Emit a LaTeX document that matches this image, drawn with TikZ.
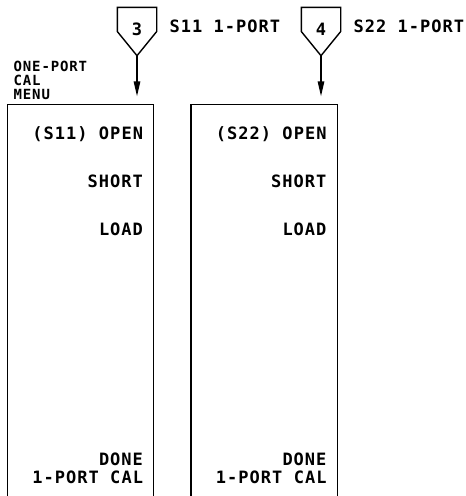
\documentclass[tikz,border=0pt]{standalone}
\usepackage{fontspec}
\usetikzlibrary{arrows.meta, positioning, calc}
\newfontfamily\plotfont[LetterSpace=6]{DejaVu Sans Mono}
\tikzset{
  every picture/.style={line width=1.4pt},
  keybox/.style={minimum width=38pt, minimum height=47pt, inner sep=0pt, text height=12pt, text depth=5pt, font=\plotfont\bfseries\fontsize{17}{17}\selectfont},
  menu/.style={minimum width=145pt, minimum height=395pt, inner sep=0pt},
  softkey/.style={anchor=base east, inner sep=0pt, font=\plotfont\bfseries\fontsize{17}{17}\selectfont},
  keylabel/.style={anchor=base west, inner sep=0pt, font=\plotfont\bfseries\fontsize{17}{17}\selectfont},
  title/.style={anchor=south west, inner sep=0pt, align=left, font=\plotfont\bfseries\fontsize{14}{14}\selectfont},
  arrow/.style={-{Triangle[length=15pt, width=6.5pt]}, shorten >=8pt},
}

\begin{document}
\begin{tikzpicture}[x=1pt, y=-1pt]
  \useasboundingbox (0,0) rectangle (466,496);
  % ---- hardkeys ----
  \node[keybox] (k3) at (137,31.5) {3};
  \node[keybox] (k4) at (321,31.5) {4};
  \node[keylabel] (l3) at (169,32) {S11 1-PORT};
  \node[keylabel] (l4) at (353,32) {S22 1-PORT};
  % ---- menus ----
  \node[title] (t1) at (13,100) {ONE-PORT\\CAL\\MENU};
  \node[menu] (m1) at (80.5,302.5) {};
  \node[menu] (m2) at (264,302.5) {};
  \foreach \k/\m/\s in {k3/m1/S11, k4/m2/S22} {
    \draw (\k.east) -- (\k.north east) -- (\k.north west) -- (\k.west) -- (\k.south) -- cycle;
    \draw[arrow] (\k.south) -- (\k.south |- \m.north);
    \draw (\m.south west) -- (\m.north west) -- (\m.north east) -- (\m.south east);
    \node[softkey] (\m-open) at ($(\m.north east)+(-10,35)$) {(\s) OPEN};
    \node[softkey] (\m-short) at ($(\m.north east)+(-10,83)$) {SHORT};
    \node[softkey] (\m-load) at ($(\m.north east)+(-10,131)$) {LOAD};
    \node[softkey] (\m-done) at ($(\m.north east)+(-10,361)$) {DONE};
    \node[softkey] (\m-cal) at ($(\m.north east)+(-10,379)$) {1-PORT CAL};
  }
\end{tikzpicture}
\end{document}
